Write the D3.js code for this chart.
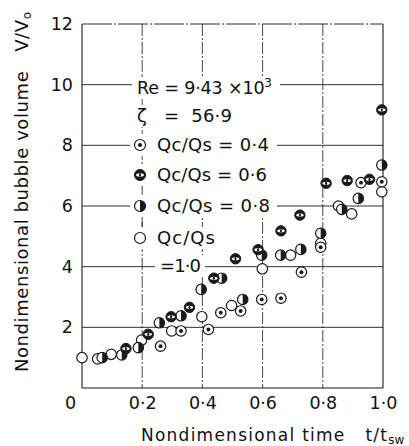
<!DOCTYPE html>
<html>
<head>
<meta charset="utf-8">
<script src="https://cdn.jsdelivr.net/npm/d3@7"></script>
<style>
  body { margin: 0; background: #fff; }
  text { font-family: "DejaVu Sans", sans-serif; fill: #111; white-space: pre; }
</style>
</head>
<body>
<div id="chart"></div>
<script>
// tick values and labels
const xTicks = [0, 0.2, 0.4, 0.6, 0.8, 1.0];
const xTickLabels = ["0", "0·2", "0·4", "0·6", "0·8", "1·0"];
const yTicks = [2, 4, 6, 8, 10, 12];

// Qc/Qs = 0.4 (dotted circle)
const t04 = [0.261, 0.329, 0.420, 0.461, 0.527, 0.597, 0.661, 0.729, 0.793, 0.927, 0.996];
const v04 = [1.38, 1.88, 1.93, 2.48, 2.54, 2.92, 2.96, 3.82, 4.64, 6.77, 6.80];
// Qc/Qs = 0.6 (black with white band)
const t06 = [0.146, 0.220, 0.296, 0.357, 0.438, 0.510, 0.585, 0.661, 0.724, 0.811, 0.881, 0.955, 0.996];
const v06 = [1.30, 1.77, 2.35, 2.66, 3.62, 4.26, 4.56, 5.18, 5.70, 6.75, 6.84, 6.88, 9.17];
// Qc/Qs = 0.8 (half filled)
const t08 = [0.067, 0.132, 0.187, 0.257, 0.329, 0.396, 0.464, 0.534, 0.597, 0.660, 0.727, 0.793, 0.863, 0.918, 0.996];
const v08 = [1.00, 1.09, 1.33, 2.15, 2.38, 3.25, 3.62, 2.92, 4.38, 4.38, 4.57, 5.10, 5.89, 6.25, 7.35];
// Qc/Qs = 1.0 (open circle)
const t10 = [0.0, 0.052, 0.097, 0.198, 0.298, 0.398, 0.497, 0.599, 0.693, 0.793, 0.852, 0.896, 0.996];
const v10 = [1.00, 0.96, 1.11, 1.58, 1.88, 2.35, 2.72, 3.93, 4.38, 4.77, 6.00, 5.74, 6.47];

const legendLabels = ["Qc/Qs = 0·4", "Qc/Qs = 0·6", "Qc/Qs = 0·8", "Qc/Qs"];

const W = 409, H = 446;
const svg = d3.select("#chart").append("svg").attr("width", W).attr("height", H);

const x = d3.scaleLinear().domain([0, 1]).range([82, 383]);
const y = d3.scaleLinear().domain([0, 12]).range([388, 24]);

const ink = "#1a1a1a";

// grid
const grid = svg.append("g");
grid.selectAll(".hgrid").data(yTicks).enter().append("line")
    .attr("x1", x(0)).attr("x2", x(1))
    .attr("y1", d => y(d)).attr("y2", d => y(d))
    .attr("stroke", ink).attr("stroke-width", 0.9)
    .attr("stroke-dasharray", d => d === 12 ? "30,2,2,2" : null);
grid.selectAll(".vgrid").data([0.2, 0.4, 0.6, 0.8]).enter().append("line")
    .attr("x1", d => x(d)).attr("x2", d => x(d))
    .attr("y1", y(12)).attr("y2", y(0))
    .attr("stroke", ink).attr("stroke-width", 0.8)
    .attr("stroke-dasharray", "12,2,2,2");
// frame: left, bottom, right
svg.append("line").attr("x1", x(0)).attr("x2", x(0)).attr("y1", y(12)).attr("y2", y(0))
    .attr("stroke", ink).attr("stroke-width", 1.1);
svg.append("line").attr("x1", x(0)).attr("x2", x(1)).attr("y1", y(0)).attr("y2", y(0))
    .attr("stroke", ink).attr("stroke-width", 1.1);
svg.append("line").attr("x1", x(1)).attr("x2", x(1)).attr("y1", y(12)).attr("y2", y(0))
    .attr("stroke", ink).attr("stroke-width", 1.1);

// axes labels only
const xAxis = svg.append("g").attr("transform", `translate(0, ${y(0) + 6})`)
    .call(d3.axisBottom(x).tickValues(xTicks).tickSize(0).tickFormat((d, i) => xTickLabels[i]));
xAxis.select(".domain").remove();
xAxis.selectAll("text").style("font-size", "17.5px").attr("fill", ink);
xAxis.selectAll(".tick").filter(d => d === 0).select("text").attr("x", -12);

const yAxis = svg.append("g").attr("transform", `translate(${x(0) - 6}, 0)`)
    .call(d3.axisLeft(y).tickValues(yTicks).tickSize(0));
yAxis.select(".domain").remove();
yAxis.selectAll("text").style("font-size", "17.5px").attr("fill", ink);

// axis titles
const xt = svg.append("text").attr("x", 141).attr("y", 441).style("font-size", "17px");
xt.append("tspan").attr("textLength", 246).attr("lengthAdjust", "spacing").text("Nondimensional time   t/t");
xt.append("tspan").attr("dy", 3).style("font-size", "12px").text("sw");

const yt = svg.append("text").attr("transform", "translate(28, 192) rotate(-90)")
    .attr("text-anchor", "middle").style("font-size", "18px")
    .attr("textLength", 360).attr("lengthAdjust", "spacing");
yt.append("tspan").text("Nondimensional bubble volume   V/V");
yt.append("tspan").attr("dy", 3).style("font-size", "12px").text("o");

// symbols
function symbol(g, kind, r) {
    if (kind === "bar") {
        g.append("circle").attr("r", r).attr("fill", ink).attr("stroke", ink).attr("stroke-width", 1);
        g.append("ellipse").attr("rx", r * 0.72).attr("ry", r * 0.3).attr("fill", "#fff");
        g.append("ellipse").attr("rx", r * 0.2).attr("ry", r * 0.32).attr("fill", ink);
        return;
    }
    g.append("circle").attr("r", r).attr("fill", "#fff").attr("stroke", ink).attr("stroke-width", 1.2);
    if (kind === "dot") {
        g.append("circle").attr("r", r * 0.38).attr("fill", ink);
    } else if (kind === "half") {
        g.append("path").attr("d", `M0,${-r}A${r},${r} 0 0 1 0,${r}Z`).attr("fill", ink);
    }
}

// legend box (white) with the 0.2 grid line through it
svg.append("rect").attr("x", 133).attr("y", 76).attr("width", 144).attr("height", 138).attr("fill", "#fff");
svg.append("line").attr("x1", x(0.2)).attr("x2", x(0.2)).attr("y1", 76).attr("y2", 230)
    .attr("stroke", ink).attr("stroke-width", 0.8).attr("stroke-dasharray", "12,2,2,2");

function textRow(xs, ys, w) {
    svg.append("rect").attr("x", xs - 3).attr("y", ys - 11).attr("width", w + 6).attr("height", 22).attr("fill", "#fff");
}

textRow(135, 88, 142);
const re = svg.append("text").attr("x", 137).attr("y", 94).style("font-size", "17.5px")
    .attr("textLength", 135).attr("lengthAdjust", "spacing");
re.append("tspan").text("Re = 9·43 ×10");
re.append("tspan").attr("dy", -7).style("font-size", "12px").text("3");

textRow(135, 116, 100);
svg.append("text").attr("x", 137).attr("y", 122).style("font-size", "18px").text("ζ");
svg.append("text").attr("x", 164).attr("y", 122).style("font-size", "18px")
    .attr("textLength", 68).attr("lengthAdjust", "spacing").text("=  56·9");

const kinds = ["dot", "bar", "half", "open"];
const rowY = [145, 175, 206, 238];
const rowLen = [112, 110, 113, 58];
kinds.forEach((k, i) => {
    textRow(133, rowY[i], i === 3 ? 86 : 140);
    symbol(svg.append("g").attr("transform", `translate(140, ${rowY[i]})`), k, 5.5);
    svg.append("text").attr("x", 157).attr("y", rowY[i] + 6).style("font-size", "18px")
        .attr("textLength", rowLen[i]).attr("lengthAdjust", "spacing").text(legendLabels[i]);
});
textRow(158, 266, 44);
svg.append("text").attr("x", 160).attr("y", 272).style("font-size", "18px")
    .attr("textLength", 41).attr("lengthAdjust", "spacing").text("=1·0");

// data points
const seriesList = [
    {kind: "open", t: t10, v: v10},
    {kind: "dot", t: t04, v: v04},
    {kind: "half", t: t08, v: v08},
    {kind: "bar", t: t06, v: v06}
];
seriesList.forEach(s => {
    const pts = svg.append("g").selectAll("g").data(s.t.map((t, i) => ({t: t, v: s.v[i]})))
        .enter().append("g")
        .attr("transform", d => `translate(${x(d.t)}, ${y(d.v)})`);
    pts.each(function() { symbol(d3.select(this), s.kind, 5.2); });
});
</script>
</body>
</html>
